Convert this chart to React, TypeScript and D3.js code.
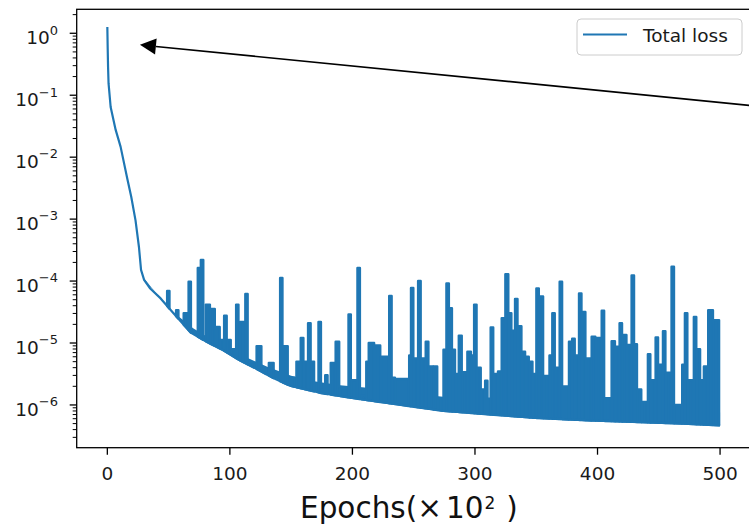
import React from 'react';
import * as d3 from 'd3';

// ---- data ----
const xTickValues = [0, 100, 200, 300, 400, 500];
const yTickExponents = [0, -1, -2, -3, -4, -5, -6];

// smooth lower curve of the total loss (epoch ×100, log10 loss)
const baselineEpochs = [0, 0.3, 0.6, 1, 2.7, 6.8, 10.8, 16.3, 19.5, 23, 25.8, 27.5, 30, 35, 43.5, 54, 68, 81, 95, 108, 122, 135, 149, 175, 204, 240, 272, 310, 350, 394, 440, 470, 500];
const baselineLog10 = [0.1, -0.25, -0.55, -0.81, -1.19, -1.56, -1.83, -2.35, -2.64, -3.02, -3.45, -3.82, -3.98, -4.12, -4.28, -4.52, -4.83, -4.98, -5.12, -5.28, -5.42, -5.56, -5.69, -5.81, -5.9, -6.0, -6.09, -6.15, -6.21, -6.25, -6.28, -6.3, -6.33];

// dense oscillation band just above the lower curve
const bandEpochs = [30, 50, 70, 90, 110, 130, 150, 170, 190, 210, 230, 250, 270, 290, 310, 330, 350, 370, 390, 410, 430, 450, 470, 490, 500];
const bandTopLog10 = [-3.96, -4.44, -4.76, -5.0, -5.2, -5.38, -5.53, -5.62, -5.68, -5.72, -5.78, -5.82, -5.86, -5.9, -5.92, -5.94, -5.97, -5.98, -6.0, -6.02, -6.04, -6.05, -6.07, -6.09, -6.12];

// oscillation plateaus: [start epoch, end epoch, log10 of plateau value]
const earlyBars: [number, number, number][] = [
  [48.5, 51, -4.16], [55.8, 58.3, -4.47], [62, 66, -4.52], [66, 68.5, -4.01], [73.5, 76, -3.79], [76, 78.6, -3.66],
  [80, 84, -4.38], [84, 88, -4.45], [88, 92, -4.74], [92, 95, -4.95], [95, 97.7, -4.56], [97.7, 101, -4.95],
  [101, 104.5, -5.1], [104.8, 107.3, -4.38], [108, 112, -4.66], [112.3, 114.8, -4.21], [114.8, 120, -5.35],
  [121.5, 126, -5.05], [126, 130, -5.42], [131.5, 136, -5.32], [140.7, 143.2, -3.95], [143.2, 147.5, -5.05],
  [149.4, 153, -5.56],
];
const midBars: [number, number, number][] = [
  [154, 157.5, -5.3], [157.5, 160.3, -4.92], [160.3, 163.5, -5.3], [163.5, 166.2, -4.68], [166.2, 169, -5.3],
  [172, 174.6, -4.66], [174.6, 177.5, -5.75], [177.5, 180, -5.52], [182, 186, -5.32], [186, 189.5, -4.98],
  [189.5, 196.5, -5.73], [196.5, 199, -4.54], [199, 203.5, -5.6], [203.8, 206.4, -3.79], [207, 211, -5.85],
  [211, 213, -5.3], [213, 218, -5.0], [218, 223, -5.04], [223, 229.7, -5.22], [229.7, 232.3, -4.24],
  [232.3, 235, -5.56], [235, 246, -5.58], [246, 247.5, -5.2], [247.5, 250, -4.11], [250, 253.3, -5.25],
  [253.3, 256, -4.0], [256, 259.5, -5.25], [259.5, 262.3, -4.98], [262.3, 266, -5.38], [266, 269.5, -5.38],
  [269.5, 274, -5.89],
];
const lateBars: [number, number, number][] = [
  [274, 276.4, -5.11], [276.4, 279, -4.04], [279, 281.5, -4.44], [281.5, 284, -5.11], [284, 286.5, -5.5],
  [286.5, 289.5, -4.88], [289.5, 293.5, -5.47], [293.5, 297, -5.14], [297, 299, -5.2], [299, 301.6, -4.38],
  [301.6, 305, -5.4], [305, 308, -5.75], [308, 310.5, -5.61], [310.5, 312.5, -5.9], [312.5, 315.2, -4.75],
  [315.2, 318.5, -5.5], [318.5, 321.5, -5.46], [321.5, 324.5, -4.6], [324.5, 327.5, -3.89], [327.5, 330, -4.52],
  [330, 332.4, -4.8], [332.4, 335, -4.29], [335, 338.2, -4.73], [338.2, 341.2, -5.14], [341.2, 344.2, -5.22],
  [344.2, 347.2, -5.3], [347.2, 349.8, -5.5], [349.8, 352.4, -4.12], [352.4, 355.9, -4.25], [355.9, 360.5, -5.53],
  [360.5, 362.8, -5.2], [362.8, 365.4, -4.52], [365.4, 368.8, -5.4], [368.8, 371.4, -4.01], [371.4, 376.4, -5.7],
  [376.4, 379, -4.98], [379, 381.7, -4.93], [381.7, 384.6, -5.2], [384.6, 387.2, -4.2], [387.2, 390.4, -4.5],
  [390.4, 394.9, -5.25],
];
const endBars: [number, number, number][] = [
  [394.9, 398.5, -4.9], [398.5, 403.1, -4.92], [403.1, 405.7, -4.48], [405.7, 411.2, -5.89], [411.2, 414.5, -4.97],
  [414.5, 417.7, -5.06], [417.7, 420.3, -4.68], [420.3, 423.9, -4.87], [423.9, 427.5, -5.03], [427.5, 430.1, -3.91],
  [430.1, 432.5, -5.02], [432.5, 436, -5.75], [436, 440.8, -5.95], [440.8, 443.4, -5.18], [443.4, 447.1, -5.6],
  [447.1, 449.7, -4.91], [449.7, 453.1, -5.35], [453.1, 455.7, -4.81], [455.7, 460.1, -5.48], [460.1, 462.7, -3.77],
  [462.7, 468.8, -6.0], [468.8, 471, -5.35], [471, 473.6, -4.52], [473.6, 478.3, -5.6], [478.3, 480.9, -4.58],
  [480.9, 484, -5.1], [484, 486.5, -5.6], [486.5, 490, -5.38], [490, 494.5, -4.47], [494.5, 499.5, -4.63],
];

const legendLabel = 'Total loss';
const xLabelWord = 'Epochs(';
const xLabelTimes = '×';
const xLabelBase = '10';
const xLabelSup = '2';
const arrowTip = [26.6, 0.65];
const arrowTail = [570, 0.0557];

const W = 749;
const H = 528;
const FONT = 'DejaVu Sans, sans-serif';
const BLUE = '#1f77b4';

export default function App() {
  const left = 76.7, right = 750.7, top = 9.3, bottom = 447.7;
  const x = d3.scaleLinear().domain([-25, 525]).range([left, right]);
  const y = d3.scaleLog().domain([Math.pow(10, -6.69), Math.pow(10, 0.387)]).range([bottom, top]);
  const baseScale = d3.scaleLinear().domain(baselineEpochs).range(baselineLog10);

  const bars = earlyBars.concat(midBars, lateBars, endBars);

  const basePts: [number, number][] = baselineEpochs.map((e, i) => [e, baselineLog10[i]]);
  const line = d3.line<[number, number]>().x((d) => x(d[0])).y((d) => y(Math.pow(10, d[1])));
  const band = d3
    .area<number>()
    .x((e) => x(e))
    .y0((e) => y(Math.pow(10, baseScale(e))))
    .y1((_, i) => y(Math.pow(10, bandTopLog10[i])));

  const barPath = (s: number, e: number, v: number) => {
    const a = s + 0.3, b = e - 0.3;
    const pts: [number, number][] = [
      [a, baseScale(a)],
      [a, v],
      [b, v],
      [b, baseScale(b)],
    ];
    return line(pts) + 'Z';
  };

  const minor: number[] = [];
  for (let k = -7; k <= 0; k++) {
    for (let m = 2; m <= 9; m++) {
      const v = m * Math.pow(10, k);
      const py = y(v);
      if (py >= top && py <= bottom) minor.push(v);
    }
  }

  // annotation arrow
  const tx = x(arrowTip[0]), ty = y(arrowTip[1]);
  const sx = x(arrowTail[0]), sy = y(arrowTail[1]);
  const ang = Math.atan2(sy - ty, sx - tx);
  const hl = 16, hw = 8;
  const bx = tx + hl * Math.cos(ang), by = ty + hl * Math.sin(ang);
  const head = [
    [tx, ty],
    [bx - hw * Math.sin(ang), by + hw * Math.cos(ang)],
    [bx + hw * Math.sin(ang), by - hw * Math.cos(ang)],
  ]
    .map((p) => p.join(','))
    .join(' ');

  return (
    <svg width={W} height={H} style={{ position: 'absolute', left: 0, top: 0, background: '#fff' }} fontFamily={FONT}>
      <defs>
        <clipPath id="plot">
          <rect x={left} y={top} width={right - left} height={bottom - top} />
        </clipPath>
      </defs>
      <rect x={0} y={0} width={W} height={H} fill="#fff" />
      <g clipPath="url(#plot)">
        <path d={band(bandEpochs) || ''} fill={BLUE} stroke="none" />
        <g fill={BLUE} stroke={BLUE} strokeWidth={2.4} strokeLinejoin="round">
          {bars.map(([s, e, v], i) => (
            <path key={i} d={barPath(s, e, v)} />
          ))}
        </g>
        <path d={line(basePts) || ''} fill="none" stroke={BLUE} strokeWidth={2.2} strokeLinejoin="round" />
      </g>

      {/* spines */}
      <rect x={left} y={top} width={right - left} height={bottom - top} fill="none" stroke="#000" strokeWidth={1.3} />

      {/* y ticks */}
      {yTickExponents.map((k) => {
        const py = y(Math.pow(10, k));
        return (
          <g key={'y' + k}>
            <line x1={left - 7} x2={left} y1={py} y2={py} stroke="#000" strokeWidth={1.3} />
            <text x={58} y={py + 10.8} textAnchor="end" fontSize={18.5} fill="#1a1a1a">
              10
              <tspan dy={-9.5} fontSize={13}>
                {k === 0 ? '0' : '\u2212' + Math.abs(k)}
              </tspan>
            </text>
          </g>
        );
      })}
      {minor.map((v, i) => (
        <line key={'m' + i} x1={left - 4} x2={left} y1={y(v)} y2={y(v)} stroke="#000" strokeWidth={1} />
      ))}

      {/* x ticks */}
      {xTickValues.map((t) => (
        <g key={'x' + t}>
          <line x1={x(t)} x2={x(t)} y1={bottom} y2={bottom + 7} stroke="#000" strokeWidth={1.3} />
          <text x={x(t)} y={479.5} textAnchor="middle" fontSize={18.5} fill="#1a1a1a">
            {t}
          </text>
        </g>
      ))}

      {/* x label (mathtext-like spacing) */}
      <text x={300} y={518} fontSize={29.5} fill="#111">
        {xLabelWord}
        <tspan>{xLabelTimes}</tspan>
        <tspan dx={4}>{xLabelBase}</tspan>
        <tspan dx={1} dy={-9} fontSize={17}>
          {xLabelSup}
        </tspan>
        <tspan dx={11} dy={9}>
          )
        </tspan>
      </text>

      {/* annotation arrow */}
      <line x1={sx} y1={sy} x2={bx} y2={by} stroke="#000" strokeWidth={1.6} />
      <polygon points={head} fill="#000" />

      {/* legend */}
      <rect x={577} y={19} width={165} height={36} rx={4} fill="#fff" fillOpacity={0.8} stroke="#cccccc" strokeWidth={1} />
      <line x1={583} x2={627} y1={34.5} y2={34.5} stroke={BLUE} strokeWidth={2.2} />
      <text x={643} y={41.5} fontSize={18.5} fill="#1a1a1a">
        {legendLabel}
      </text>
    </svg>
  );
}
